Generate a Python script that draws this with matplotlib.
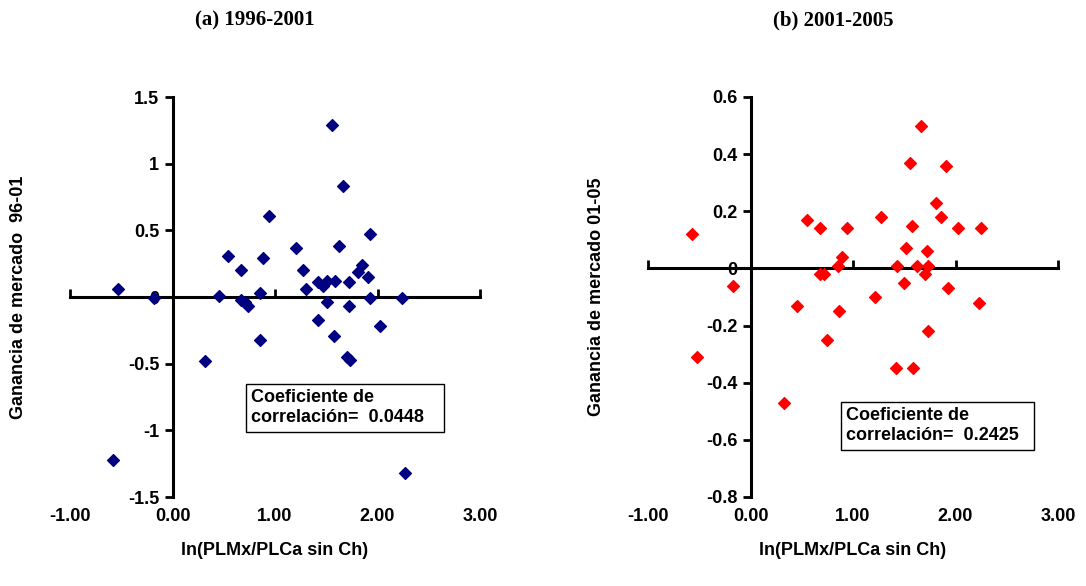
import numpy as np
import matplotlib.pyplot as plt

plt.rcParams['font.family'] = ['Liberation Sans', 'DejaVu Sans']
plt.rcParams['font.weight'] = 'bold'

# (a) 1996-2001
x_a = [-0.53, -0.18, -0.58, 0.32, 0.45, 0.54, 0.67, 0.67, 0.71, 0.74, 0.85, 0.85, 0.88, 0.94,
       1.20, 1.27, 1.30, 1.42, 1.42, 1.47, 1.51, 1.51, 1.56, 1.59, 1.58, 1.62, 1.66, 1.72,
       1.72, 1.70, 1.73, 1.81, 1.85, 1.91, 1.93, 1.93, 2.02, 2.24, 2.27]
y_a = [0.06, -0.01, -1.22, -0.48, 0.01, 0.31, 0.20, -0.02, -0.04, -0.07, 0.03, -0.32, 0.29, 0.61,
       0.37, 0.20, 0.06, -0.17, 0.11, 0.08, 0.12, -0.04, 1.29, 0.12, -0.29, 0.38, 0.83, 0.11,
       -0.07, -0.45, -0.47, 0.19, 0.24, 0.15, 0.47, -0.01, -0.22, -0.005, -1.32]

# (b) 2001-2005
x_b = [-0.57, -0.17, -0.52, 0.33, 0.45, 0.55, 0.68, 0.68, 0.72, 0.75, 0.85, 0.89, 0.86, 0.94,
       1.21, 1.27, 1.42, 1.43, 1.50, 1.52, 1.56, 1.58, 1.59, 1.62, 1.66, 1.70, 1.72, 1.73,
       1.73, 1.81, 1.86, 1.91, 1.93, 2.02, 2.23, 2.25]
y_b = [0.12, -0.06, -0.31, -0.47, -0.13, 0.17, 0.14, -0.02, -0.02, -0.25, 0.01, 0.04, -0.15, 0.14,
       -0.10, 0.18, -0.35, 0.01, -0.05, 0.07, 0.37, 0.15, -0.35, 0.01, 0.50, -0.02, 0.06, 0.01,
       -0.22, 0.23, 0.18, 0.36, -0.07, 0.14, -0.12, 0.14]

x_ticks = [-1, 0, 1, 2, 3]
x_ticklabels = ['-1.00', '0.00', '1.00', '2.00', '3.00']

fig = plt.figure(figsize=(10.86, 5.86), dpi=100)
W, H = 1086, 586
FS = 13


def panel(left, xs, ys, color, ylim, yticks, ylabel, title, r_text, box_xy):
    ax = fig.add_axes([left / W, 1 - 497 / H, 410 / W, 400 / H])
    ax.scatter(xs, ys, marker='D', s=36, color=color, zorder=3)
    ax.set_xlim(-1, 3)
    ax.set_ylim(*ylim)
    for s in ['top', 'right']:
        ax.spines[s].set_visible(False)
    ax.spines['left'].set_position(('data', 0))
    ax.spines['bottom'].set_position(('data', 0))
    for s in ['left', 'bottom']:
        ax.spines[s].set_linewidth(2.2)
    ax.set_yticks(yticks)
    ax.set_yticklabels([('%g' % v) if abs(v) > 1e-9 else '0' for v in yticks], fontsize=FS, fontweight='bold')
    ax.tick_params(axis='y', direction='out', length=6, width=2)
    ax.set_xticks(x_ticks)
    ax.tick_params(axis='x', direction='in', length=6, width=2, labelbottom=False)
    sec = ax.secondary_xaxis('bottom')
    sec.set_xticks(x_ticks)
    sec.set_xticklabels(x_ticklabels, fontsize=FS, fontweight='bold')
    sec.spines['bottom'].set_visible(False)
    sec.tick_params(length=0, pad=8)
    sec.set_xlabel('ln(PLMx/PLCa sin Ch)', fontsize=FS, fontweight='bold', labelpad=12)
    ax.set_ylabel(ylabel, fontsize=FS, fontweight='bold')
    ax.yaxis.set_label_coords(-0.105, 0.5)
    fig.text((left + 185) / W, 1 - 20 / H, title, ha='center', va='center',
             fontsize=15, fontweight='bold', family='Liberation Serif')
    fig.text(box_xy[0] / W, 1 - box_xy[1] / H, r_text, ha='left', va='top',
             fontsize=FS, fontweight='bold', linespacing=1.25,
             bbox=dict(boxstyle='square,pad=0.3', fc='white', ec='black', lw=1))


panel(70, x_a, y_a, '#000080', (-1.5, 1.5), [-1.5, -1, -0.5, 0, 0.5, 1, 1.5],
      'Ganancia de mercado  96-01', '(a) 1996-2001',
      'Coeficiente de         \ncorrelación=  0.0448   ', (251, 389))
panel(648, x_b, y_b, '#FF0000', (-0.8, 0.6), [-0.8, -0.6, -0.4, -0.2, 0, 0.2, 0.4, 0.6],
      'Ganancia de mercado 01-05', '(b) 2001-2005',
      'Coeficiente de         \ncorrelación=  0.2425  ', (846, 407))

fig.savefig('out.png', dpi=100)
